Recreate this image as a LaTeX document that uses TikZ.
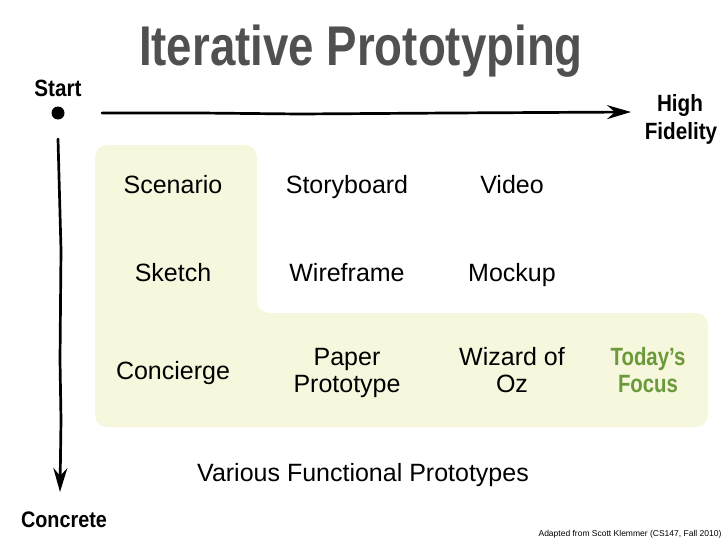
\documentclass[tikz,border=0pt]{standalone}
\usepackage{fontspec}
\setmainfont{Liberation Sans}
\newfontfamily\condfont[FakeStretch=0.815]{Liberation Sans}
\newfontfamily\axisfont[FakeStretch=0.88]{Liberation Sans}
\usetikzlibrary{arrows.meta}
\definecolor{panel}{RGB}{247,247,221}
\definecolor{titlegray}{RGB}{80,80,80}
\definecolor{focusgreen}{RGB}{106,154,58}
\tikzset{
  cell/.style={font=\fontsize{25}{27}\selectfont, inner sep=0pt, anchor=base},
  axislabel/.style={font=\axisfont\bfseries\fontsize{23.5}{28}\selectfont, inner sep=0pt, anchor=base},
  sketchy/.style={line width=2.7pt, -{Stealth[length=24pt,width=14pt,inset=8pt]}, line cap=round, line join=round}
}
\begin{document}
\begin{tikzpicture}[x=1pt,y=-1pt]
\useasboundingbox (0,0) rectangle (728,546);
\fill[panel, rounded corners=12pt] (95,145) -- (257,145) -- (257,313) -- (708,313) -- (708,427) -- (95,427) -- cycle;
\node[font=\condfont\bfseries\fontsize{56}{60}\selectfont, text=titlegray, inner sep=0pt, anchor=base] (title) at (361,65) {Iterative Prototyping};
\node[axislabel] (start) at (58,96) {Start};
\node[circle, fill=black, minimum size=13pt, inner sep=0pt] (dot) at (58,113) {};
\node[axislabel] (high) at (680,111.5) {High};
\node[axislabel] (fidelity) at (681,139.5) {Fidelity};
\node[axislabel, font=\axisfont\bfseries\fontsize{22.5}{28}\selectfont] (concrete) at (64,527) {Concrete};
\coordinate (hend) at (631,112);
\coordinate (vend) at (60,492);
\draw[sketchy] ([xshift=44pt]dot.center) -- (200,113) -- (300,114) -- (450,113) -- (hend);
\draw[sketchy] ([yshift=-26pt]dot.center) -- (61,250) -- (60,360) -- (61,420) -- (vend);
\foreach \cn/\cx/\cy/\ca/\cb in {
sc/173/193/Scenario/, sb/347/193/Storyboard/, vi/512/193/Video/,
sk/173/281/Sketch/, wf/347/281/Wireframe/, mu/512/281/Mockup/,
co/173/352/{}/Concierge, pp/347/365/Paper/Prototype, wo/512/365/Wizard of/Oz
}{
\node[cell] (\cn) at (\cx,\cy) {\ca};
\node[cell] (\cn2) at (\cx,\cy+27) {\cb};
}
\node[cell, font=\condfont\bfseries\fontsize{25}{28}\selectfont, text=focusgreen] (today) at (648,365) {Today’s};
\node[cell, font=\condfont\bfseries\fontsize{25}{28}\selectfont, text=focusgreen] (focus) at (648,392) {Focus};
\node[cell] (various) at (363,481) {Various Functional Prototypes};
\node[font=\fontsize{8.5}{10}\selectfont, inner sep=0pt] (credit) at (630,534) {Adapted from Scott Klemmer (CS147, Fall 2010)};
\end{tikzpicture}
\end{document}
